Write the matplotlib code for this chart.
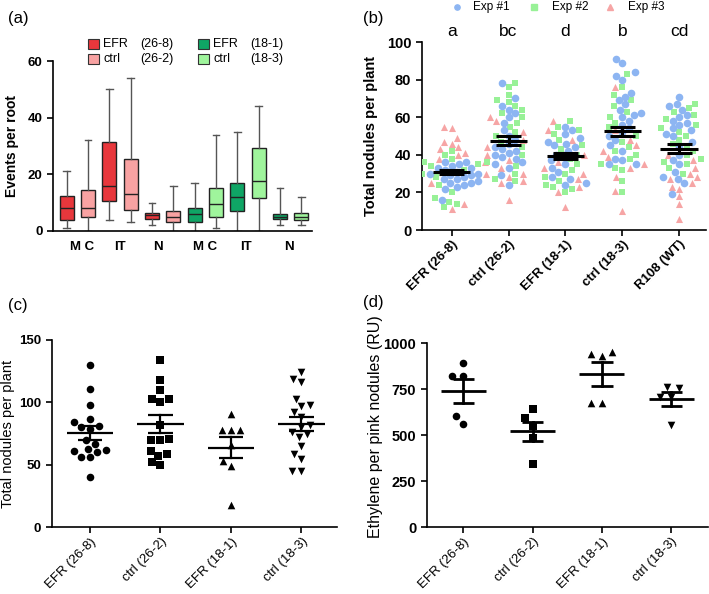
import numpy as np
import matplotlib
matplotlib.use("Agg")
import matplotlib.pyplot as plt
from matplotlib.patches import Rectangle
from matplotlib.lines import Line2D

plt.rcParams['font.family'] = ['Liberation Sans', 'DejaVu Sans']

# ---------------- data ----------------
# panel (a) box plots
a_whislo = [1, 0, 4, 3, 2, 0, 0, 1, 0, 0, 2, 2]
a_q1 = [4, 5, 10.5, 7.3, 4.2, 3, 3, 5, 7, 11.5, 4.2, 4]
a_med = [8, 8, 16, 13, 5.5, 5, 6, 9.5, 12, 17.5, 5, 5]
a_q3 = [12.3, 14.3, 31.3, 25.3, 6.3, 7, 8, 15, 17, 29.3, 6, 6.3]
a_whishi = [21, 32, 50, 54, 10, 16, 17, 34, 35, 44, 15, 12]
a_groups = ["M C", "IT", "N", "M C", "IT", "N"]
a_legend_names = ["EFR", "ctrl", "EFR", "ctrl"]
a_legend_codes = ["(26-8)", "(26-2)", "(18-1)", "(18-3)"]

# panel (b) scatter
b_categories = ["EFR (26-8)", "ctrl (26-2)", "EFR (18-1)", "ctrl (18-3)", "R108 (WT)"]
b_letters = ["a", "bc", "d", "b", "cd"]
b_exp1 = [
    [16, 22, 23, 24, 25, 26, 27, 28, 29, 30, 31, 32, 33, 34, 35, 36, 36, 33, 27, 25, 30, 29],
    [24, 29, 33, 35, 36, 38, 39, 40, 41, 42, 43, 44, 46, 48, 50, 53, 57, 60, 62, 64, 66, 70, 78],
    [24, 25, 27, 28, 31, 33, 35, 37, 39, 40, 42, 44, 45, 46, 47, 49, 51, 53, 55],
    [35, 35, 37, 38, 42, 45, 48, 50, 52, 54, 56, 58, 60, 61, 62, 64, 67, 69, 71, 73, 80, 82, 84, 89, 91],
    [19, 25, 27, 28, 31, 35, 37, 40, 44, 47, 50, 51, 53, 54, 56, 57, 58, 60, 61, 64, 66, 67, 71],
]
b_exp2 = [
    [12, 14, 15, 17, 20, 24, 28, 30, 32, 34, 36, 38, 40, 42, 35],
    [26, 27, 30, 34, 36, 40, 44, 47, 50, 52, 55, 57, 60, 62, 64, 66, 68, 69, 72, 76, 78],
    [20, 22, 23, 24, 26, 28, 30, 32, 35, 38, 40, 43, 45, 48, 51, 53, 55, 58],
    [20, 26, 32, 33, 35, 38, 40, 42, 44, 47, 50, 55, 57, 60, 63, 66, 69, 72, 76, 83],
    [30, 33, 35, 36, 38, 40, 42, 44, 46, 48, 50, 52, 54, 56, 59, 61, 63, 65, 67],
]
b_exp3 = [
    [11, 14, 25, 30, 33, 36, 38, 40, 41, 43, 44, 46, 47, 49, 54, 55],
    [16, 25, 26, 28, 30, 33, 37, 40, 44, 48, 52, 58, 60],
    [12, 20, 23, 27, 30, 33, 36, 40, 48, 53, 58],
    [10, 21, 28, 33, 35, 39, 42, 45, 48, 53, 76],
    [6, 14, 18, 22, 23, 25, 27, 28, 30, 33, 37, 40],
]
b_means = [30.9, 47.5, 39.3, 52.6, 43.2]
b_sems = [1.0, 2.3, 1.6, 2.4, 2.5]

# panel (c)
c_categories = ["EFR (26-8)", "ctrl (26-2)", "EFR (18-1)", "ctrl (18-3)"]
c_values = [
    [130, 111, 98, 87, 84, 81, 80, 79, 70, 67, 63, 62, 61, 60, 56, 56, 40],
    [134, 118, 110, 103, 103, 100, 82, 71, 70, 70, 61, 59, 57, 50, 52],
    [91, 78, 78, 78, 66, 53, 49, 18],
    [124, 119, 116, 103, 98, 97, 92, 88, 82, 80, 76, 75, 72, 65, 59, 55, 45, 45],
]

# panel (d)
d_categories = ["EFR (26-8)", "ctrl (26-2)", "EFR (18-1)", "ctrl (18-3)"]
d_values = [
    [895, 822, 822, 605, 562],
    [641, 596, 551, 484, 342],
    [942, 955, 930, 674, 674],
    [764, 755, 710, 710, 556],
]

# ---------------- helpers ----------------
W, H = 709, 594
fig = plt.figure(figsize=(W / 100, H / 100), dpi=100)


def axes_px(left, top, right, bottom):
    return fig.add_axes([left / W, 1 - bottom / H, (right - left) / W, (bottom - top) / H])


def style(ax):
    for s in ["top", "right"]:
        ax.spines[s].set_visible(False)
    for s in ["left", "bottom"]:
        ax.spines[s].set_linewidth(1.2)
    ax.tick_params(direction="out", length=4, width=1.2)


def swarm(ax, xc, values, d):
    pts = ax.transData.transform([(xc, v) for v in values])
    sx = ax.transData.transform((xc + 1, 0))[0] - ax.transData.transform((xc, 0))[0]
    ys = pts[:, 1]
    order = np.argsort(ys, kind="stable")
    placed = []
    offs = np.zeros(len(values))
    for i in order:
        y = ys[i]
        cands = [0.0]
        for px, py in placed:
            dy = y - py
            if abs(dy) < d:
                dx = np.sqrt(d * d - dy * dy)
                cands += [px + dx, px - dx]
        cands = sorted(cands, key=lambda c: (abs(c), c))
        for c in cands:
            if all((c - px) ** 2 + (y - py) ** 2 >= d * d - 1e-6 for px, py in placed):
                offs[i] = c
                placed.append((c, y))
                break
    return xc + offs / sx


def mean_sem(ax, x, m, s, mw, cw, lw):
    ax.plot([x - mw / 2, x + mw / 2], [m, m], color="black", lw=lw, zorder=5, solid_capstyle="butt")
    ax.plot([x, x], [m - s, m + s], color="black", lw=lw, zorder=5)
    for yy in (m - s, m + s):
        ax.plot([x - cw / 2, x + cw / 2], [yy, yy], color="black", lw=lw, zorder=5, solid_capstyle="butt")


# ---------------- panel (a) ----------------
axA = axes_px(53, 61, 312, 231)
style(axA)
a_colors = ["#e8373c", "#f8a2a2"] * 3 + ["#0fa565", "#9ff59c"] * 3
stats = []
for i in range(12):
    stats.append(dict(whislo=a_whislo[i], q1=a_q1[i], med=a_med[i], q3=a_q3[i],
                      whishi=a_whishi[i], fliers=[]))
pos = np.arange(1, 13)
bp = axA.bxp(stats, positions=pos, widths=0.65, patch_artist=True, showfliers=False,
             capwidths=0.3,
             boxprops=dict(edgecolor="#222222", linewidth=1.0),
             medianprops=dict(color="#222222", linewidth=1.0),
             whiskerprops=dict(color="#555555", linewidth=1.0),
             capprops=dict(color="#555555", linewidth=1.0))
for patch, col in zip(bp["boxes"], a_colors):
    patch.set_facecolor(col)
axA.set_xlim(0.36, 12.5)
axA.set_ylim(0, 60)
axA.set_yticks([0, 20, 40, 60])
axA.set_xticks([1.7, 3.5, 5.3, 7.5, 9.4, 11.4])
axA.set_xticklabels(a_groups, fontsize=9.5, fontweight="bold")
axA.tick_params(axis="x", length=0, pad=7)
for lab in axA.get_yticklabels():
    lab.set_fontweight("bold")
    lab.set_fontsize(9.5)
axA.set_ylabel("Events per root", fontsize=10, fontweight="bold")
axA.yaxis.set_label_coords(-0.13, 0.5)

leg_cols = ["#e8373c", "#f8a2a2", "#0fa565", "#9ff59c"]
leg_px = [(88.3, 44.3, 103.3, 140), (88.3, 58.7, 103.3, 140),
          (198.3, 44.3, 213.3, 250), (198.3, 58.7, 213.3, 250)]
for (px, py, tx, cx), col, nm, cd in zip(leg_px, leg_cols, a_legend_names, a_legend_codes):
    fig.patches.append(Rectangle((px / W, 1 - (py + 5) / H), 11 / W, 10 / H,
                                 transform=fig.transFigure, facecolor=col,
                                 edgecolor="#333333", lw=0.8))
    fig.text(tx / W, 1 - py / H, nm, fontsize=9, va="center", ha="left")
    fig.text(cx / W, 1 - py / H, cd, fontsize=9, va="center", ha="left")

fig.text(8 / W, 1 - 19 / H, "(a)", fontsize=12, va="center", ha="left")

# ---------------- panel (b) ----------------
axB = axes_px(421.7, 42, 706, 230)
style(axB)
axB.set_xlim(0.473, 5.47)
axB.set_ylim(0, 100)
axB.set_yticks([0, 20, 40, 60, 80, 100])
bx = np.arange(1, 6)
axB.set_xticks(bx)
axB.set_xticklabels(b_categories, rotation=45, ha="right", rotation_mode="anchor",
                    fontsize=9.5, fontweight="bold")
axB.tick_params(axis="x", pad=2)
for lab in axB.get_yticklabels():
    lab.set_fontweight("bold")
    lab.set_fontsize(10.5)
axB.set_ylabel("Total nodules per plant", fontsize=10.5, fontweight="bold")
axB.yaxis.set_label_coords(-0.153, 0.5)

cB = ["#8db5f2", "#98f197", "#f6a5a5"]
for i in range(5):
    allv = list(b_exp1[i]) + list(b_exp2[i]) + list(b_exp3[i])
    xs = swarm(axB, bx[i], allv, 7.5)
    n1, n2 = len(b_exp1[i]), len(b_exp2[i])
    axB.scatter(xs[n1 + n2:], b_exp3[i], marker="^", s=26, color=cB[2], lw=0, zorder=2)
    axB.scatter(xs[n1:n1 + n2], b_exp2[i], marker="s", s=24, color=cB[1], lw=0, zorder=3)
    axB.scatter(xs[:n1], b_exp1[i], marker="o", s=30, color=cB[0], lw=0, zorder=4)
    mean_sem(axB, bx[i], b_means[i], b_sems[i], 0.66, 0.44, 2.2)
    axB.text(bx[i], 1.032, b_letters[i], transform=axB.get_xaxis_transform(),
             ha="center", va="baseline", fontsize=12.5)

# legend (b)
leg_b = [(456.7, 473.3, "o", cB[0], "Exp #1"), (534.3, 551.7, "s", cB[1], "Exp #2"),
         (610, 628.3, "^", cB[2], "Exp #3")]
for mx, tx, mk, col, lab in leg_b:
    fig.add_artist(Line2D([mx / W], [1 - 6.7 / H], marker=mk, markersize=3.8, color=col,
                          lw=0, transform=fig.transFigure))
    fig.text(tx / W, 1 - 6.7 / H, lab, fontsize=8.5, va="center", ha="left")

fig.text(363 / W, 1 - 19 / H, "(b)", fontsize=12, va="center", ha="left")

# ---------------- panel (c) ----------------
axC = axes_px(51.7, 340, 336.7, 527.3)
style(axC)
axC.set_xlim(0.457, 4.5)
axC.set_ylim(0, 150)
axC.set_yticks([0, 50, 100, 150])
cx_ = np.arange(1, 5)
axC.set_xticks(cx_)
axC.set_xticklabels(c_categories, rotation=45, ha="right", rotation_mode="anchor", fontsize=9.5)
axC.tick_params(axis="x", pad=2)
for lab in axC.get_yticklabels():
    lab.set_fontweight("bold")
    lab.set_fontsize(9.5)
axC.set_ylabel("Total nodules per plant", fontsize=10.5)
axC.yaxis.set_label_coords(-0.128, 0.5)
c_markers = ["o", "s", "^", "v"]
for i in range(4):
    v = np.array(c_values[i], dtype=float)
    xs = swarm(axC, cx_[i], v, 9.0)
    axC.scatter(xs, v, marker=c_markers[i], s=30, color="black", lw=0, zorder=3)
    m = v.mean()
    s = v.std(ddof=1) / np.sqrt(len(v))
    mean_sem(axC, cx_[i], m, s, 0.66, 0.35, 1.6)

fig.text(8 / W, 1 - 305 / H, "(c)", fontsize=12, va="center", ha="left")

# ---------------- panel (d) ----------------
axD = axes_px(426.7, 343.3, 708, 527.3)
style(axD)
axD.set_xlim(0.471, 4.53)
axD.set_ylim(0, 1000)
axD.set_yticks([0, 250, 500, 750, 1000])
dx_ = np.arange(1, 5)
axD.set_xticks(dx_)
axD.set_xticklabels(d_categories, rotation=45, ha="right", rotation_mode="anchor", fontsize=9.5)
axD.tick_params(axis="x", pad=2)
for lab in axD.get_yticklabels():
    lab.set_fontweight("bold")
    lab.set_fontsize(10.5)
axD.set_ylabel("Ethylene per pink nodules (RU)", fontsize=11.5)
axD.yaxis.set_label_coords(-0.154, 0.547)
for i in range(4):
    v = np.array(d_values[i], dtype=float)
    xs = swarm(axD, dx_[i], v, 11.0)
    axD.scatter(xs, v, marker=c_markers[i], s=30, color="black", lw=0, zorder=3)
    m = v.mean()
    s = v.std(ddof=1) / np.sqrt(len(v))
    mean_sem(axD, dx_[i], m, s, 0.65, 0.31, 2.0)

fig.text(363 / W, 1 - 303 / H, "(d)", fontsize=12, va="center", ha="left")

fig.savefig("out.png", dpi=100)
